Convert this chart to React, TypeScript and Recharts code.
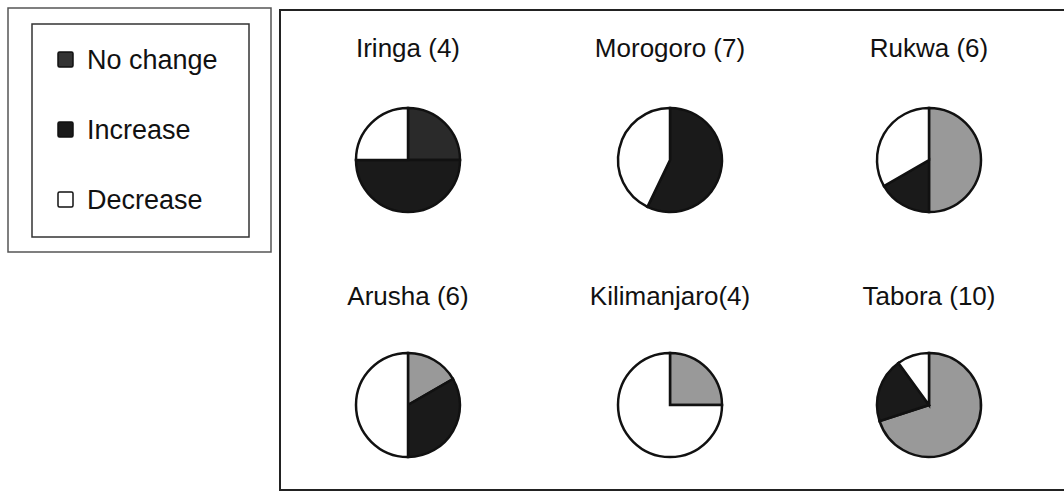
import React from 'react';
import { PieChart, Pie, Cell } from 'recharts';

// categories in drawing order (clockwise from 12 o'clock)
const CATEGORIES = ['No change', 'Increase', 'Decrease'];
const COLORS = ['#999999', '#1a1a1a', '#ffffff'];

// regions and the number of responses per category
const REGIONS = ['Iringa (4)', 'Morogoro (7)', 'Rukwa (6)', 'Arusha (6)', 'Kilimanjaro(4)', 'Tabora (10)'];
const NO_CHANGE = [1, 0, 3, 1, 1, 7];
const INCREASE = [2, 4, 1, 2, 0, 2];
const DECREASE = [1, 3, 2, 3, 3, 1];

const COL_X = [408, 670, 929];
const ROW_Y = [160, 405];
const TITLE_Y = [57, 305];
const FONT = '"Liberation Sans", Arial, sans-serif';

const pieData = (i: number) => [
  { name: CATEGORIES[0], value: NO_CHANGE[i] },
  { name: CATEGORIES[1], value: INCREASE[i] },
  { name: CATEGORIES[2], value: DECREASE[i] },
];

// Iringa's "no change" slice is printed much darker in the source
const sliceColor = (region: number, cat: number) =>
  region === 0 && cat === 0 ? '#2a2a2a' : COLORS[cat];

const LEGEND_Y = [60, 130, 200];

export default function App() {
  return (
    <div style={{ position: 'absolute', left: 0, top: 0, width: 1064, height: 493, background: '#fff' }}>
      <PieChart width={1064} height={493} margin={{ top: 0, right: 0, bottom: 0, left: 0 }}>
        {/* legend frame */}
        <rect x={8} y={8} width={263} height={244} fill="none" stroke="#555" strokeWidth={1.5} />
        <rect x={32} y={24} width={217} height={213} fill="none" stroke="#333" strokeWidth={1.5} />
        {CATEGORIES.map((c, i) => (
          <g key={c}>
            <rect
              x={58}
              y={LEGEND_Y[i] - 8}
              width={15}
              height={15}
              fill={i === 0 ? '#333' : COLORS[i]}
              stroke="#111"
              strokeWidth={1.5}
              rx={1.5}
            />
            <text x={87} y={LEGEND_Y[i] + 9} fontSize={27} fontFamily={FONT} fill="#111">
              {c}
            </text>
          </g>
        ))}
        {/* main frame */}
        <rect x={280} y={10} width={800} height={480} fill="none" stroke="#222" strokeWidth={2} />
        {REGIONS.map((r, i) => (
          <text
            key={r}
            x={COL_X[i % 3]}
            y={TITLE_Y[Math.floor(i / 3)]}
            textAnchor="middle"
            fontSize={26}
            fontFamily={FONT}
            fill="#111"
          >
            {r}
          </text>
        ))}
        {REGIONS.map((r, i) => (
          <Pie
            key={`pie-${r}`}
            data={pieData(i)}
            dataKey="value"
            nameKey="name"
            cx={COL_X[i % 3]}
            cy={ROW_Y[Math.floor(i / 3)]}
            outerRadius={52}
            startAngle={90}
            endAngle={-270}
            stroke="#111"
            strokeWidth={2.5}
            isAnimationActive={false}
          >
            {pieData(i).map((d, j) => (
              <Cell key={`cell-${i}-${j}`} fill={sliceColor(i, j)} />
            ))}
          </Pie>
        ))}
      </PieChart>
    </div>
  );
}
